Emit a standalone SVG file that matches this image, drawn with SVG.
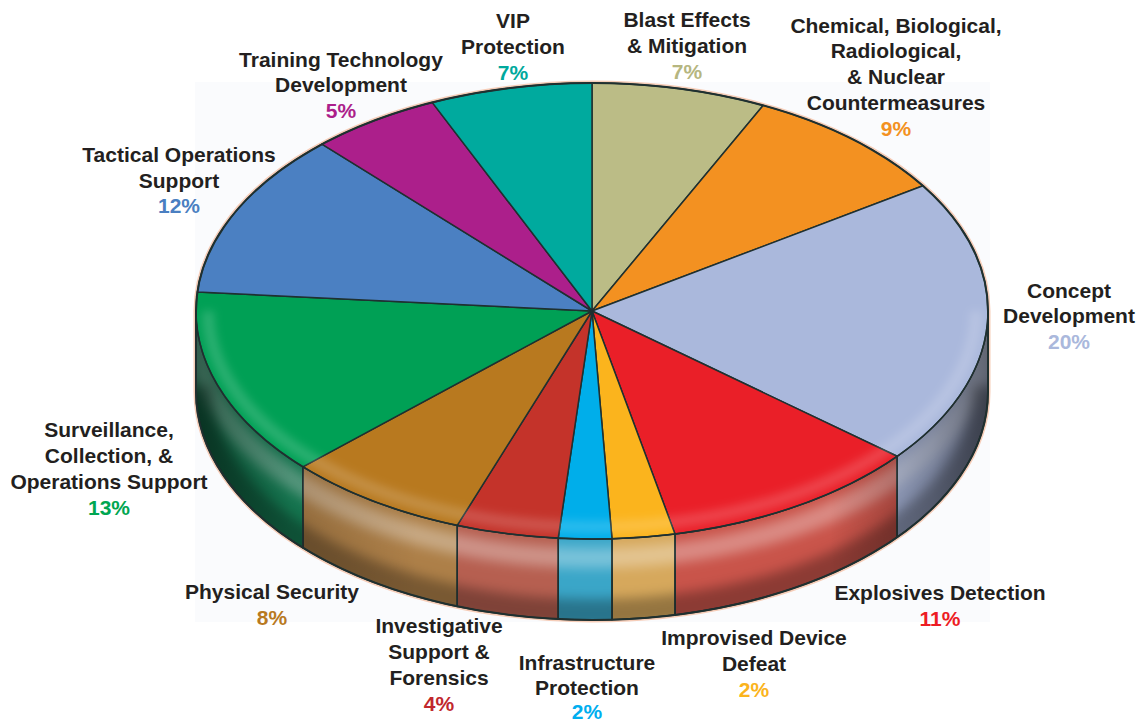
<svg xmlns="http://www.w3.org/2000/svg" width="1144" height="723" viewBox="0 0 1144 723">
<style>
.lbl{font-family:"Liberation Sans",Arial,Helvetica,sans-serif;font-weight:bold;font-size:21px;text-anchor:middle;fill:#231f20}
.edge{stroke:#1f3030;stroke-width:1.5;stroke-linejoin:round}
</style>
<defs>
<filter id="blur6" filterUnits="userSpaceOnUse" x="0" y="0" width="1144" height="723"><feGaussianBlur stdDeviation="6"/></filter>
<filter id="blur4" filterUnits="userSpaceOnUse" x="0" y="0" width="1144" height="723"><feGaussianBlur stdDeviation="4"/></filter>
<clipPath id="sideClip"><path d="M196 311 A396 228 0 0 0 988 311 L988 392 A396 228 0 0 1 196 392 Z"/></clipPath>
<clipPath id="topClip"><ellipse cx="592" cy="311" rx="396" ry="228"/></clipPath>
<linearGradient id="hShade" gradientUnits="userSpaceOnUse" x1="196" y1="0" x2="988" y2="0">
<stop offset="0" stop-color="#000" stop-opacity="0.45"/>
<stop offset="0.12" stop-color="#000" stop-opacity="0.15"/>
<stop offset="0.28" stop-color="#000" stop-opacity="0"/>
<stop offset="0.8" stop-color="#000" stop-opacity="0"/>
<stop offset="0.93" stop-color="#000" stop-opacity="0.28"/>
<stop offset="1" stop-color="#000" stop-opacity="0.5"/>
</linearGradient>
</defs>
<rect x="195" y="82" width="795" height="540" fill="#fafbfd"/>
<path d="M196 311 A396 228 0 0 1 988 311 L988 392 A396 228 0 0 1 196 392 Z" fill="none" stroke="#f6cdb8" stroke-width="5"/>

<g id="slice-blast">
<path class="edge" fill="#bbbc86" d="M592 311 L592 83 A396 228 0 0 1 763.1 105.4 Z"/>
</g>
<g id="slice-cbrn">
<path class="edge" fill="#f39121" d="M592 311 L763.1 105.4 A396 228 0 0 1 923 185.8 Z"/>
</g>
<g id="slice-concept">
<path class="edge" fill="#a7b4d8" d="M988 311 A396 228 0 0 1 897.1 456.3 L897.1 537.3 A396 228 0 0 0 988 392 Z"/>
<path class="edge" fill="#aab8dc" d="M592 311 L923 185.8 A396 228 0 0 1 897.1 456.3 Z"/>
</g>
<g id="slice-explosives">
<path class="edge" fill="#c9544a" d="M897.1 456.3 A396 228 0 0 1 675 533.9 L675 614.9 A396 228 0 0 0 897.1 537.3 Z"/>
<path class="edge" fill="#ea1f28" d="M592 311 L897.1 456.3 A396 228 0 0 1 675 533.9 Z"/>
</g>
<g id="slice-idd">
<path class="edge" fill="#d6a85c" d="M675 533.9 A396 228 0 0 1 612 538.7 L612 619.7 A396 228 0 0 0 675 614.9 Z"/>
<path class="edge" fill="#fbb41d" d="M592 311 L675 533.9 A396 228 0 0 1 612 538.7 Z"/>
</g>
<g id="slice-infrastructure">
<path class="edge" fill="#3aa6c8" d="M612 538.7 A396 228 0 0 1 558.2 538.2 L558.2 619.2 A396 228 0 0 0 612 619.7 Z"/>
<path class="edge" fill="#00aeea" d="M592 311 L612 538.7 A396 228 0 0 1 558.2 538.2 Z"/>
</g>
<g id="slice-investigative">
<path class="edge" fill="#b65f50" d="M558.2 538.2 A396 228 0 0 1 457.2 525.4 L457.2 606.4 A396 228 0 0 0 558.2 619.2 Z"/>
<path class="edge" fill="#c4332a" d="M592 311 L558.2 538.2 A396 228 0 0 1 457.2 525.4 Z"/>
</g>
<g id="slice-physical">
<path class="edge" fill="#ad7f48" d="M457.2 525.4 A396 228 0 0 1 302.8 466.8 L302.8 547.8 A396 228 0 0 0 457.2 606.4 Z"/>
<path class="edge" fill="#b8791f" d="M592 311 L457.2 525.4 A396 228 0 0 1 302.8 466.8 Z"/>
</g>
<g id="slice-surveillance">
<path class="edge" fill="#17865a" d="M302.8 466.8 A396 228 0 0 1 196 311 L196 392 A396 228 0 0 0 302.8 547.8 Z"/>
<path class="edge" fill="#00a055" d="M592 311 L302.8 466.8 A396 228 0 0 1 197.4 291.9 Z"/>
</g>
<g id="slice-tactical">
<path class="edge" fill="#4b80c2" d="M592 311 L197.4 291.9 A396 228 0 0 1 321.9 144.2 Z"/>
</g>
<g id="slice-training">
<path class="edge" fill="#ac1f8b" d="M592 311 L321.9 144.2 A396 228 0 0 1 432.2 102.4 Z"/>
</g>
<g id="slice-vip">
<path class="edge" fill="#00aa9e" d="M592 311 L432.2 102.4 A396 228 0 0 1 592 83 Z"/>
</g>

<g id="shading">
<g clip-path="url(#sideClip)">
<path d="M196 330 A396 228 0 0 0 988 330" fill="none" stroke="#fff" stroke-opacity="0.32" stroke-width="20" filter="url(#blur6)"/>
<path d="M196 386 A396 228 0 0 0 988 386" fill="none" stroke="#000" stroke-opacity="0.3" stroke-width="30" filter="url(#blur6)"/>
<rect x="190" y="300" width="805" height="330" fill="url(#hShade)"/>
</g>
<g clip-path="url(#topClip)">
<path d="M208 311 A384 216 0 0 0 976 311" fill="none" stroke="#fff" stroke-opacity="0.16" stroke-width="12" filter="url(#blur4)"/>
</g>
</g>
<g id="outline" fill="none" class="edge">
<path d="M196 311 A396 228 0 0 1 988 311 L988 392 A396 228 0 0 1 196 392 Z" stroke-width="2"/>
<path d="M196 311 A396 228 0 0 0 988 311"/>
<path d="M897.1 456.3 V537.3 M675 533.9 V614.9 M612 538.7 V619.7 M558.2 538.2 V619.2 M457.2 525.4 V606.4 M302.8 466.8 V547.8"/>
</g>

<g id="labels">
<text class="lbl" x="513" y="28">VIP</text>
<text class="lbl" x="513" y="54">Protection</text>
<text class="lbl" x="513" y="80" style="fill:#00a99d">7%</text>

<text class="lbl" x="687" y="27">Blast Effects</text>
<text class="lbl" x="687" y="53">&amp; Mitigation</text>
<text class="lbl" x="687" y="79" style="fill:#b6b67f">7%</text>

<text class="lbl" x="896" y="33">Chemical, Biological,</text>
<text class="lbl" x="896" y="58">Radiological,</text>
<text class="lbl" x="896" y="84">&amp; Nuclear</text>
<text class="lbl" x="896" y="110">Countermeasures</text>
<text class="lbl" x="896" y="136" style="fill:#f39121">9%</text>

<text class="lbl" x="1069" y="298">Concept</text>
<text class="lbl" x="1069" y="323">Development</text>
<text class="lbl" x="1069" y="349" style="fill:#aab8dc">20%</text>

<text class="lbl" x="940" y="600">Explosives Detection</text>
<text class="lbl" x="940" y="626" style="fill:#ed1c24">11%</text>

<text class="lbl" x="754" y="645">Improvised Device</text>
<text class="lbl" x="754" y="671">Defeat</text>
<text class="lbl" x="754" y="697" style="fill:#fbb41d">2%</text>

<text class="lbl" x="587" y="670">Infrastructure</text>
<text class="lbl" x="587" y="695">Protection</text>
<text class="lbl" x="587" y="719" style="fill:#00aeef">2%</text>

<text class="lbl" x="439" y="633">Investigative</text>
<text class="lbl" x="439" y="659">Support &amp;</text>
<text class="lbl" x="439" y="685">Forensics</text>
<text class="lbl" x="439" y="711" style="fill:#c1272d">4%</text>

<text class="lbl" x="272" y="599">Physical Security</text>
<text class="lbl" x="272" y="625" style="fill:#b8791f">8%</text>

<text class="lbl" x="109" y="437">Surveillance,</text>
<text class="lbl" x="109" y="463">Collection, &amp;</text>
<text class="lbl" x="109" y="489">Operations Support</text>
<text class="lbl" x="109" y="515" style="fill:#00a651">13%</text>

<text class="lbl" x="179" y="162">Tactical Operations</text>
<text class="lbl" x="179" y="188">Support</text>
<text class="lbl" x="179" y="213" style="fill:#4a7fc1">12%</text>

<text class="lbl" x="341" y="67">Training Technology</text>
<text class="lbl" x="341" y="92">Development</text>
<text class="lbl" x="341" y="118" style="fill:#ac1f8b">5%</text>
</g>
</svg>
